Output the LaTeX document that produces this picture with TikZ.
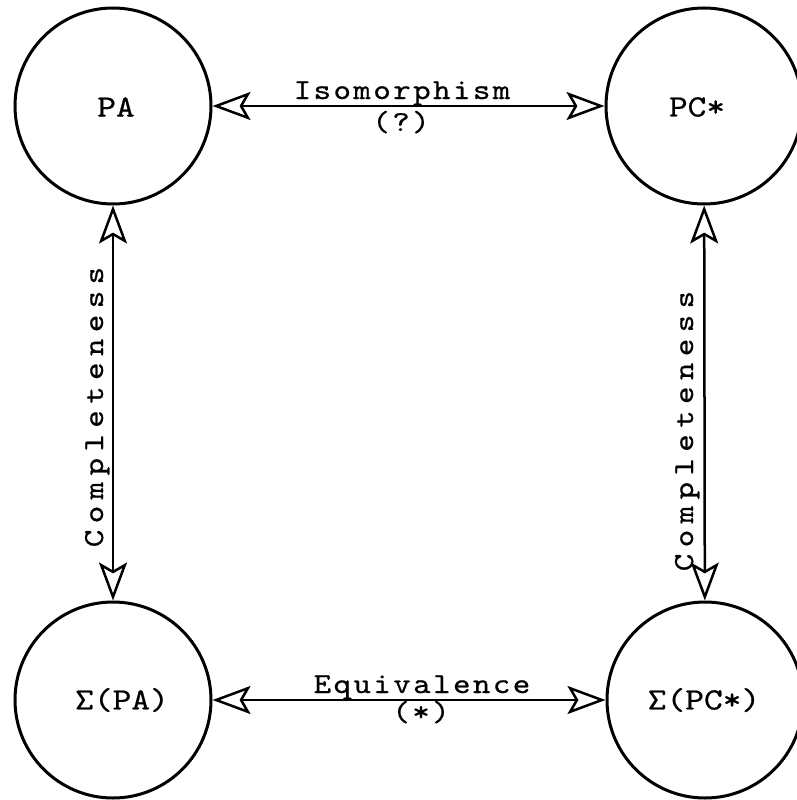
\documentclass[tikz,border=0pt]{standalone}
\usepackage{fontspec}
\usetikzlibrary{arrows.meta}
% typewriter face: widened a little, spaced like a 10-pitch machine
\newfontfamily\typeH{lmmono10-regular.otf}[FakeStretch=1.15,FakeBold=0.6,LetterSpace=8.3]
\newfontfamily\typeV{lmmono10-regular.otf}[FakeStretch=1.15,FakeBold=0.6,LetterSpace=22]
\newfontfamily\typeC{lmmono10-regular.otf}[FakeStretch=1.15,FakeBold=0.6]
\begin{document}
\begin{tikzpicture}[x=1pt,y=-1pt,
  theory/.style={circle, draw, line width=3pt, minimum size=196pt, inner sep=0pt},
  theorytext/.style={font=\typeC\fontsize{31}{33}\selectfont, inner sep=0pt},
  openhead/.tip={Stealth[open,length=38pt,width=28pt,inset=8pt]},
  relation/.style={line width=2.5pt, openhead-openhead},
  hlabel/.style={font=\typeH\fontsize{29}{31}\selectfont, inner sep=0pt, anchor=base},
  vlabel/.style={font=\typeV\fontsize{29}{31}\selectfont, inner sep=0pt, anchor=base, rotate=90}]
\useasboundingbox (0,0) rectangle (797,800);

% the four theories
\node[theory] (pa)  at (113,106) {};
\node[theory] (pc)  at (704,106) {};
\node[theory] (spa) at (113,700) {};
\node[theory] (spc) at (705,700) {};

\node[theorytext] (pa-t)  at (116,107) {PA};
\node[theorytext] (pc-t)  at (697,107) {PC*};
\node[theorytext] (spa-t) at (122,700) {Σ(PA)};
\node[theorytext] (spc-t) at (704,700) {Σ(PC*)};

% relations between them
\draw[relation] (pa) -- (pc);
\draw[relation] (spa) -- (spc);
\draw[relation] (pa) -- (spa);
\draw[relation] (pc) -- (spc);

% relation labels
\node[hlabel] (iso)   at (402,99)  {Isomorphism};
\node[hlabel] (iso-q) at (401,131) {(?)};
\node[hlabel] (eqv)   at (422,693) {Equivalence};
\node[hlabel] (eqv-s) at (421,721) {(*)};
\node[vlabel] (cl) at (103,407) {Completeness};
\node[vlabel] (cr) at (693,431) {Completeness};
\end{tikzpicture}
\end{document}
